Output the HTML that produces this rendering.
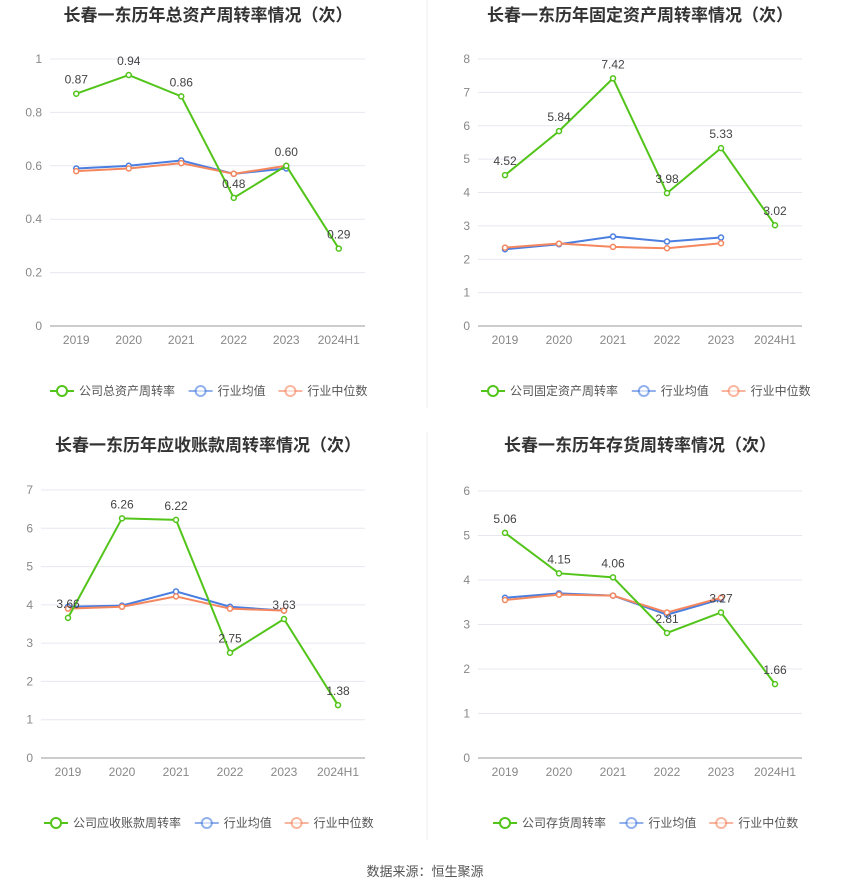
<!DOCTYPE html>
<html><head><meta charset="utf-8"><style>
body{margin:0;background:#fff;font-family:"Liberation Sans","Noto Sans CJK SC",sans-serif;}
svg{display:block}
</style></head><body>
<svg id="c" width="850" height="891" xmlns="http://www.w3.org/2000/svg" font-family="Liberation Sans, Noto Sans CJK SC, sans-serif">
<line x1="427" y1="0" x2="427" y2="408" stroke="#eee"/>
<line x1="427" y1="432" x2="427" y2="840" stroke="#eee"/>
<text x="425" y="876" text-anchor="middle" font-size="13" fill="#555">数据来源：恒生聚源</text>
</svg>
<script>
const categories=["2019","2020","2021","2022","2023","2024H1"];
const c1Title="长春一东历年总资产周转率情况（次）";
const c1Company=[0.87,0.94,0.86,0.48,0.60,0.29];
const c1Avg=[0.59,0.60,0.62,0.57,0.59];
const c1Median=[0.58,0.59,0.61,0.57,0.60];
const c1Ticks=[0,0.2,0.4,0.6,0.8,1];
const c1Labels=["0.87","0.94","0.86","0.48","0.60","0.29"];
const c2Title="长春一东历年固定资产周转率情况（次）";
const c2Company=[4.52,5.84,7.42,3.98,5.33,3.02];
const c2Avg=[2.30,2.45,2.68,2.53,2.65];
const c2Median=[2.35,2.47,2.37,2.33,2.48];
const c2Ticks=[0,1,2,3,4,5,6,7,8];
const c2Labels=["4.52","5.84","7.42","3.98","5.33","3.02"];
const c3Title="长春一东历年应收账款周转率情况（次）";
const c3Company=[3.66,6.26,6.22,2.75,3.63,1.38];
const c3Avg=[3.95,3.98,4.35,3.95,3.85];
const c3Median=[3.90,3.95,4.22,3.90,3.85];
const c3Ticks=[0,1,2,3,4,5,6,7];
const c3Labels=["3.66","6.26","6.22","2.75","3.63","1.38"];
const c4Title="长春一东历年存货周转率情况（次）";
const c4Company=[5.06,4.15,4.06,2.81,3.27,1.66];
const c4Avg=[3.60,3.70,3.65,3.22,3.57];
const c4Median=[3.55,3.67,3.65,3.27,3.60];
const c4Ticks=[0,1,2,3,4,5,6];
const c4Labels=["5.06","4.15","4.06","2.81","3.27","1.66"];

const NS="http://www.w3.org/2000/svg";
const svg=document.getElementById('c');
const G="#52c41a",B="#4a7ee0",O="#f5875f";
function mk(tag,attrs,parent,text){const e=document.createElementNS(NS,tag);for(const k in attrs)e.setAttribute(k,attrs[k]);if(text!==undefined)e.textContent=text;(parent||svg).appendChild(e);return e;}

function chart(id,cfg){
  const g=mk('g',{});
  
  
  const t=mk('text',{x:cfg.cx,y:cfg.ty,'text-anchor':'middle','font-size':17,'font-weight':'bold',fill:'#333'},g,cfg.title);
  
  
  const max=cfg.ticks[cfg.ticks.length-1];
  const ys=v=>cfg.y0-(v/max)*(cfg.y0-cfg.y1);
  const step=(cfg.x1-cfg.x0)/categories.length;
  const xs=i=>cfg.x0+step*(i+0.5);
  cfg.ticks.forEach(v=>{
    const l=mk('line',{x1:cfg.x0,x2:cfg.x1,y1:ys(v),y2:ys(v),stroke:v===0?'#999':'#e6e8f0'},g);
    
    
    const tl=mk('text',{x:cfg.x0-8,y:ys(v)+4,'text-anchor':'end','font-size':12,fill:'#888'},g,String(v));
    
    
  });
  categories.forEach((c,i)=>{
    const tl=mk('text',{x:xs(i),y:cfg.y0+18,'text-anchor':'middle','font-size':12,fill:'#888'},g,c);
    
    
  });
  function series(vals,color,name){
    const p=mk('polyline',{points:vals.map((v,i)=>xs(i)+','+ys(v)).join(' '),fill:'none',stroke:color,'stroke-width':2},g);
    
    
    vals.forEach((v,i)=>{
      const c=mk('circle',{cx:xs(i),cy:ys(v),r:2.5,fill:'#fff',stroke:color,'stroke-width':1.5},g);
      
      
    });
  }
  series(cfg.avg,B,'industry-average');
  series(cfg.median,O,'industry-median');
  series(cfg.company,G,'company');
  cfg.company.forEach((v,i)=>{
    const tl=mk('text',{x:xs(i),y:ys(v)-10,'text-anchor':'middle','font-size':12,fill:'#444'},g,cfg.labels[i]);
    
    
  });
  const items=[[cfg.leg[0],G],["行业均值",B],["行业中位数",O]];
  let lx=cfg.lx;
  items.forEach(([n,col],k)=>{
    const lg=mk('g',{},g);
    
    
    const op=k===0?1:0.6;
    mk('line',{x1:lx,x2:lx+24,y1:cfg.ly,y2:cfg.ly,stroke:col,'stroke-width':2,opacity:op},lg);
    mk('circle',{cx:lx+12,cy:cfg.ly,r:5,fill:'#fff',stroke:col,'stroke-width':2,opacity:op},lg);
    const w=n.length*12.2;
    mk('text',{x:lx+29,y:cfg.ly+4,'font-size':12,fill:'#555'},lg,n);
    lx+=29+w+12;
  });
}
chart('chart-total-asset-turnover',{title:c1Title,cx:208,ty:21,x0:50,x1:365,y0:326,y1:59,ticks:c1Ticks,company:c1Company,avg:c1Avg,median:c1Median,labels:c1Labels,leg:["公司总资产周转率"],lx:50,ly:391});
chart('chart-fixed-asset-turnover',{title:c2Title,cx:640,ty:21,x0:478,x1:802,y0:326,y1:59,ticks:c2Ticks,company:c2Company,avg:c2Avg,median:c2Median,labels:c2Labels,leg:["公司固定资产周转率"],lx:481,ly:391});
chart('chart-receivables-turnover',{title:c3Title,cx:208,ty:451,x0:41,x1:365,y0:758,y1:490,ticks:c3Ticks,company:c3Company,avg:c3Avg,median:c3Median,labels:c3Labels,leg:["公司应收账款周转率"],lx:44,ly:823});
chart('chart-inventory-turnover',{title:c4Title,cx:640,ty:451,x0:478,x1:802,y0:758,y1:491,ticks:c4Ticks,company:c4Company,avg:c4Avg,median:c4Median,labels:c4Labels,leg:["公司存货周转率"],lx:493,ly:823});
</script>
</body></html>
